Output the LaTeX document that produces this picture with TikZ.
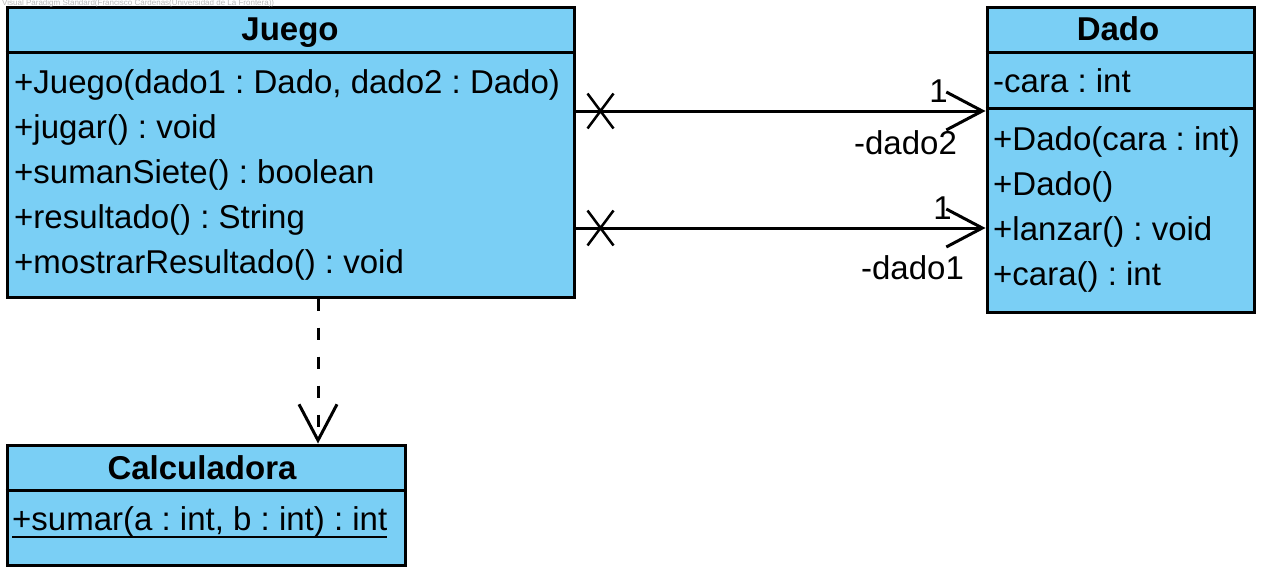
\documentclass[tikz,border=0pt]{standalone}
\usepackage{fontspec}
\setmainfont{Liberation Sans}
\usetikzlibrary{arrows.meta}
\definecolor{umlfill}{RGB}{122,207,245}
\frenchspacing
\begin{document}
\begin{tikzpicture}[x=1pt,y=-1pt,
  classbox/.style={draw, line width=3pt, fill=umlfill, anchor=north west, inner sep=0pt},
  title/.style={font=\bfseries\fontsize{33}{39}\selectfont, anchor=base, inner sep=0pt},
  member/.style={font=\fontsize{33}{39}\selectfont, anchor=base west, inner sep=0pt},
  lbl/.style={font=\fontsize{33}{39}\selectfont, inner sep=0pt},
  divider/.style={line width=3pt},
  assoc/.style={line width=3pt, -{Straight Barb[length=36pt,width=38pt]}},
  dep/.style={line width=3pt, dash pattern=on 12pt off 17pt, -{Straight Barb[length=36pt,width=38pt]}},
  xmark/.style={line width=2.5pt}]
\useasboundingbox (0,0) rectangle (1263,573);

% Juego
\node[classbox, minimum width=567pt, minimum height=290pt] (juego) at (5.5,5.5) {};
\draw[divider] (juego.west |- 0,52) -- (juego.east |- 0,52);
\node[title] (juegoT) at (290,40) {Juego};
\node[member] (j1) at (14,93) {+Juego(dado1 : Dado, dado2 : Dado)};
\node[member] (j2) at (14,138) {+jugar() : void};
\node[member] (j3) at (14,183) {+sumanSiete() : boolean};
\node[member] (j4) at (14,228) {+resultado() : String};
\node[member] (j5) at (14,273) {+mostrarResultado() : void};

% Dado
\node[classbox, minimum width=267pt, minimum height=305pt] (dado) at (985.5,5.5) {};
\draw[divider] (dado.west |- 0,52) -- (dado.east |- 0,52);
\draw[divider] (dado.west |- 0,108) -- (dado.east |- 0,108);
\node[title] (dadoT) at (1118,40) {Dado};
\node[member] (da1) at (993,92) {-cara : int};
\node[member] (d1) at (993,150) {+Dado(cara : int)};
\node[member] (d2) at (993,195) {+Dado()};
\node[member] (d3) at (993,240) {+lanzar() : void};
\node[member] (d4) at (993,285) {+cara() : int};

% Calculadora
\node[classbox, minimum width=398pt, minimum height=120pt] (calc) at (5.5,443.5) {};
\draw[divider] (calc.west |- 0,490) -- (calc.east |- 0,490);
\node[title] (calcT) at (202,479) {Calculadora};
\node[member] (c1) at (12,530) {+sumar(a : int, b : int) : int};
\draw[line width=2.5pt] ([yshift=-7pt]c1.base west) -- ([yshift=-7pt]c1.base east);

% Associations
\coordinate (ja) at (juego.east |- 0,111);
\coordinate (dA) at (dado.west |- 0,111);
\coordinate (jb) at (juego.east |- 0,228);
\coordinate (dB) at (dado.west |- 0,228);
\draw[assoc] (ja) -- (dA);
\draw[assoc] (jb) -- (dB);
\draw[xmark] ([xshift=25pt]ja) +(-13,-17.5) -- +(13,17.5) +(-13,17.5) -- +(13,-17.5);
\draw[xmark] ([xshift=25pt]jb) +(-13,-17.5) -- +(13,17.5) +(-13,17.5) -- +(13,-17.5);
\node[lbl] (m2) at ([shift={(-47,-20)}]dA) {1};
\node[lbl] (r2) at ([shift={(-80,32)}]dA) {-dado2};
\node[lbl] (m1) at ([shift={(-43,-20)}]dB) {1};
\node[lbl] (r1) at ([shift={(-73,40)}]dB) {-dado1};

% Dependency
\draw[dep] (juego.south -| 318,0) -- (calc.north -| 318,0);

% Watermark
\node[anchor=base west, inner sep=0pt, font=\fontsize{8}{9}\selectfont, text=gray!55] (wm) at (2,5) {Visual Paradigm Standard(Francisco Cárdenas(Universidad de La Frontera))};
\end{tikzpicture}
\end{document}
